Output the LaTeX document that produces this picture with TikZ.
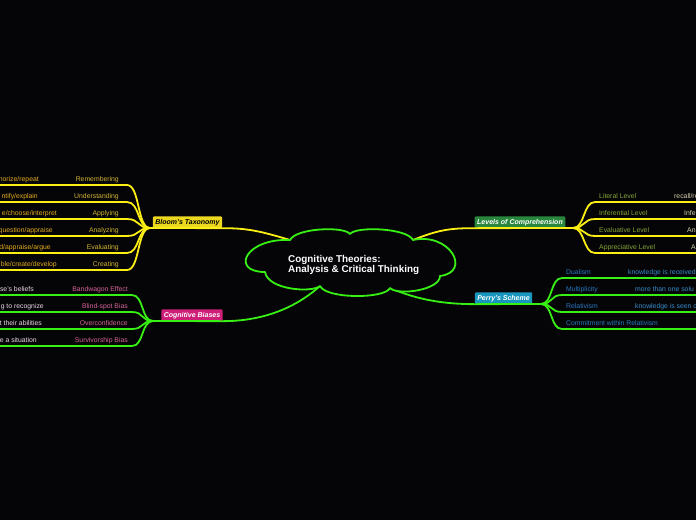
\documentclass[tikz,border=0pt]{standalone}
\usepackage{fontspec}
\setmainfont{Liberation Sans}
\definecolor{bgdark}{RGB}{5,5,8}
\definecolor{ylw}{RGB}{250,238,20}
\definecolor{grn}{RGB}{55,240,20}
\definecolor{bloomfill}{RGB}{236,216,30}
\definecolor{bloomtext}{RGB}{210,180,50}
\definecolor{bloomnote}{RGB}{228,172,30}
\definecolor{biasfill}{RGB}{205,30,120}
\definecolor{biastext}{RGB}{215,100,150}
\definecolor{biasnote}{RGB}{235,215,230}
\definecolor{levelfill}{RGB}{40,135,60}
\definecolor{leveltext}{RGB}{135,165,55}
\definecolor{levelnote}{RGB}{215,210,170}
\definecolor{perryfill}{RGB}{25,150,190}
\definecolor{perrytext}{RGB}{40,120,190}
\definecolor{perrynote}{RGB}{55,140,200}
\tikzset{
  topic/.style={rounded corners=1pt,inner xsep=2.5pt,inner ysep=0pt,minimum height=11.5pt,font=\fontsize{7}{8}\selectfont\bfseries\itshape},
  leaf/.style={inner sep=0pt,font=\fontsize{6.85}{8}\selectfont},
  yline/.style={draw=ylw,line width=1.8pt},
  gline/.style={draw=grn,line width=1.8pt},
  cloudline/.style={draw=grn,fill=bgdark,line width=1.8pt,line join=round}
}
\begin{document}
\begin{tikzpicture}[x=1pt,y=-1pt,line cap=round]
		\clip (0,0) rectangle (696,520);
		\fill[bgdark] (0,0) rectangle (696,520);
		\coordinate (cloudtl) at (290,240);
		\coordinate (cloudtop) at (350,234);
		\coordinate (cloudtr) at (413,240);
		\coordinate (cloudr) at (440,276);
		\coordinate (cloudbr) at (390,288);
		\coordinate (cloudbl) at (320,286);
		\coordinate (cloudl) at (265,272);
		\node[topic,fill=bloomfill,text=black] (bloom) at (187.5,222.2) {Bloom's Taxonomy};
		\node[topic,fill=biasfill,text=white] (biases) at (192,315.2) {Cognitive Biases};
		\node[topic,fill=levelfill,text=white] (levels) at (520,222.2) {Levels of Comprehension};
		\node[topic,fill=perryfill,text=white] (perry) at (503.5,298.2) {Perry's Scheme};
		\coordinate (bloomfan) at (150,228);
		\coordinate (biasfan) at (153,321);
		\coordinate (levelfan) at (573,228);
		\coordinate (perryfan) at (541,304);
		\draw[yline] (cloudtl) .. controls +(-30,-9) and +(25,0) .. (bloom.south east) -- (bloomfan);
		\draw[gline] (cloudbl) .. controls +(-28,25) and +(35,0) .. (biases.south east) -- (biasfan);
		\draw[yline] (cloudtr) .. controls +(25,-10) and +(-25,0) .. (levels.south west) -- (levelfan);
		\draw[gline] (cloudbr) .. controls +(28,12) and +(-30,0) .. (perry.south west) -- (perryfan);
		\draw[cloudline] (cloudtl) .. controls (296,228) and (344,226) .. (cloudtop) .. controls (356,226) and (407,228) .. (cloudtr) .. controls (450,232) and (472,272) .. (cloudr) .. controls (440,290) and (398,296) .. (cloudbr) .. controls (385,299) and (326,299) .. (cloudbl) .. controls (312,293) and (268,290) .. (cloudl) .. controls (230,272) and (245,238) .. cycle;
		\node[anchor=west,inner sep=0pt,text=white,align=left,font=\fontsize{9.9}{10.8}\selectfont\bfseries] (root) at (288,265) {Cognitive Theories:\\Analysis \& Critical Thinking};
		\draw[yline] (bloomfan) .. controls +(-13,0) and +(13,0) .. (127,185) -- (0,185) coordinate (rememberend);
		\draw[yline] (bloomfan) .. controls +(-13,0) and +(13,0) .. (127,202) -- (0,202) coordinate (understandend);
		\draw[yline] (bloomfan) .. controls +(-13,0) and +(13,0) .. (127,219) -- (0,219) coordinate (applyend);
		\draw[yline] (bloomfan) .. controls +(-13,0) and +(13,0) .. (127,236) -- (0,236) coordinate (analyzeend);
		\draw[yline] (bloomfan) .. controls +(-13,0) and +(13,0) .. (127,253) -- (0,253) coordinate (evaluateend);
		\draw[yline] (bloomfan) .. controls +(-13,0) and +(13,0) .. (127,270) -- (0,270) coordinate (createend);
		\node[leaf,anchor=base east,text=bloomtext] (remember) at (119,181.5) {Remembering};
		\node[leaf,anchor=base east,text=bloomtext] (understand) at (119,198.5) {Understanding};
		\node[leaf,anchor=base east,text=bloomtext] (apply) at (119,215.5) {Applying};
		\node[leaf,anchor=base east,text=bloomtext] (analyze) at (119,232.5) {Analyzing};
		\node[leaf,anchor=base east,text=bloomtext] (evaluate) at (119,249.5) {Evaluating};
		\node[leaf,anchor=base east,text=bloomtext] (create) at (119,266.5) {Creating};
		\node[leaf,anchor=base east,text=bloomnote] (remembernote) at (39,181.5) {norize/repeat};
		\node[leaf,anchor=base east,text=bloomnote] (understandnote) at (38,198.5) {ntify/explain};
		\node[leaf,anchor=base east,text=bloomnote] (applynote) at (57,215.5) {e/choose/interpret};
		\node[leaf,anchor=base east,text=bloomnote] (analyzenote) at (53,232.5) {question/appraise};
		\node[leaf,anchor=base east,text=bloomnote] (evaluatenote) at (51,249.5) {d/appraise/argue};
		\node[leaf,anchor=base east,text=bloomnote] (createnote) at (57,266.5) {ble/create/develop};
		\draw[gline] (biasfan) .. controls +(-12,0) and +(12,0) .. (132,295) -- (0,295) coordinate (bandwagonend);
		\draw[gline] (biasfan) .. controls +(-12,0) and +(12,0) .. (132,312) -- (0,312) coordinate (blindspotend);
		\draw[gline] (biasfan) .. controls +(-12,0) and +(12,0) .. (132,329) -- (0,329) coordinate (overconfend);
		\draw[gline] (biasfan) .. controls +(-12,0) and +(12,0) .. (132,346) -- (0,346) coordinate (survivorend);
		\node[leaf,anchor=base east,text=biastext] (bandwagon) at (128,291) {Bandwagon Effect};
		\node[leaf,anchor=base east,text=biastext] (blindspot) at (128,308) {Blind-spot Bias};
		\node[leaf,anchor=base east,text=biastext] (overconf) at (128,325) {Overconfidence};
		\node[leaf,anchor=base east,text=biastext] (survivor) at (128,342) {Survivorship Bias};
		\node[leaf,anchor=base east,text=biasnote] (bandwagonnote) at (34,291) {se's beliefs};
		\node[leaf,anchor=base east,text=biasnote] (blindspotnote) at (44,308) {g to recognize};
		\node[leaf,anchor=base east,text=biasnote] (overconfnote) at (42,325) {t their abilities};
		\node[leaf,anchor=base east,text=biasnote] (survivornote) at (37,342) {e a situation};
		\draw[yline] (levelfan) .. controls +(12,0) and +(-12,0) .. (595,202) -- (696,202) coordinate (literalend);
		\draw[yline] (levelfan) .. controls +(12,0) and +(-12,0) .. (595,219) -- (696,219) coordinate (inferentialend);
		\draw[yline] (levelfan) .. controls +(12,0) and +(-12,0) .. (595,236) -- (696,236) coordinate (evaluativeend);
		\draw[yline] (levelfan) .. controls +(12,0) and +(-12,0) .. (595,253) -- (696,253) coordinate (appreciativeend);
		\node[leaf,anchor=base west,text=leveltext] (literal) at (599,198.5) {Literal Level};
		\node[leaf,anchor=base west,text=leveltext] (inferential) at (599,215.5) {Inferential Level};
		\node[leaf,anchor=base west,text=leveltext] (evaluative) at (599,232.5) {Evaluative Level};
		\node[leaf,anchor=base west,text=leveltext] (appreciative) at (599,249.5) {Appreciative Level};
		\node[leaf,anchor=base west,text=levelnote] (literalnote) at (674,198.5) {recall/re};
		\node[leaf,anchor=base west,text=levelnote] (inferentialnote) at (684,215.5) {Infe};
		\node[leaf,anchor=base west,text=levelnote] (evaluativenote) at (687,232.5) {An};
		\node[leaf,anchor=base west,text=levelnote] (appreciativenote) at (691,249.5) {A};
		\draw[gline] (perryfan) .. controls +(12,0) and +(-12,0) .. (562,278) -- (696,278) coordinate (dualismend);
		\draw[gline] (perryfan) .. controls +(12,0) and +(-12,0) .. (562,295) -- (696,295) coordinate (multiplicityend);
		\draw[gline] (perryfan) .. controls +(12,0) and +(-12,0) .. (562,312) -- (696,312) coordinate (relativismend);
		\draw[gline] (perryfan) .. controls +(12,0) and +(-12,0) .. (562,329) -- (696,329) coordinate (commitmentend);
		\node[leaf,anchor=base west,text=perrytext] (dualism) at (566,274.5) {Dualism};
		\node[leaf,anchor=base west,text=perrytext] (multiplicity) at (566,291.5) {Multiplicity};
		\node[leaf,anchor=base west,text=perrytext] (relativism) at (566,308.5) {Relativism};
		\node[leaf,anchor=base west,text=perrytext] (commitment) at (566,325.5) {Commitment within Relativism};
		\node[leaf,anchor=base west,text=perrynote] (dualismnote) at (628,274.5) {knowledge is received};
		\node[leaf,anchor=base west,text=perrynote] (multiplicitynote) at (635,291.5) {more than one solu};
		\node[leaf,anchor=base west,text=perrynote] (relativismnote) at (635,308.5) {knowledge is seen c};
		\end{tikzpicture}
\end{document}
